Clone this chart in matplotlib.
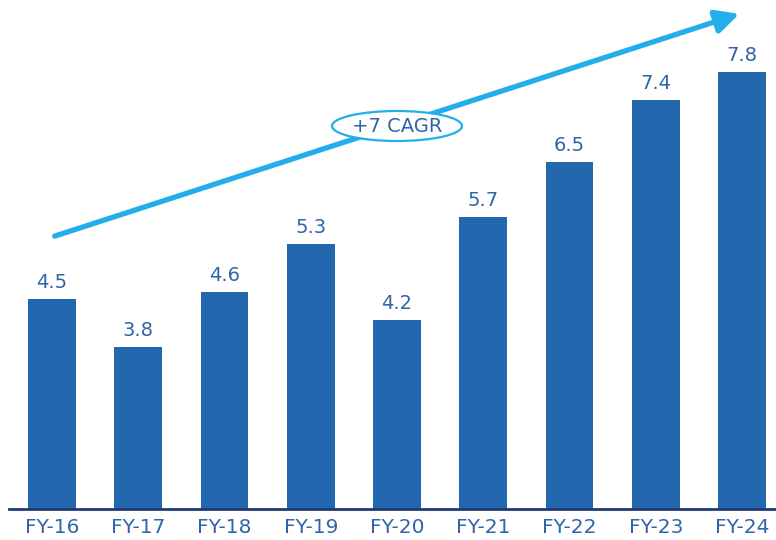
import matplotlib
matplotlib.use("Agg")
import matplotlib.pyplot as plt
from matplotlib.patches import Ellipse, FancyArrowPatch

categories = ["FY-16", "FY-17", "FY-18", "FY-19", "FY-20", "FY-21", "FY-22", "FY-23", "FY-24"]
values = [4.5, 3.8, 4.6, 5.3, 4.2, 5.7, 6.5, 7.4, 7.8]
cagr_label = "+7 CAGR"

bar_color = "#2367AE"
text_color = "#2F64A8"
arrow_color = "#22AEEA"
axis_color = "#1F3A73"

plt.rcParams["font.family"] = ["DejaVu Sans"]

fig = plt.figure(figsize=(7.76, 5.4), dpi=100)
ax = fig.add_axes([9 / 776, 31 / 540, 767 / 776, 509 / 540])

x = list(range(len(categories)))
bars = ax.bar(x, values, width=0.556, color=bar_color, zorder=2)
for xi, v in zip(x, values):
    ax.annotate(f"{v:.1f}", (xi, v), xytext=(0, 5), textcoords="offset points",
                ha="center", va="bottom", fontsize=14, color=text_color)

ax.set_xlim(-0.4986, 8.394)
ax.set_ylim(1.45, 8.85)
ax.set_xticks(x)
ax.set_xticklabels(categories, fontsize=14.5, color=text_color)
ax.tick_params(axis="x", length=0, pad=6.5)
ax.set_yticks([])
for side in ["top", "right", "left"]:
    ax.spines[side].set_visible(False)
ax.spines["bottom"].set_color(axis_color)
ax.spines["bottom"].set_linewidth(2)

# Growth arrow with the CAGR callout
arrow = FancyArrowPatch((43 / 767, 272 / 509), (733 / 767, 496 / 509),
                        transform=ax.transAxes, arrowstyle="-|>,head_length=1.0,head_width=0.5",
                        mutation_scale=14, color=arrow_color, lw=3.8, zorder=3, clip_on=False)
ax.add_patch(arrow)
ell = Ellipse((388 / 767, 383 / 509), 130 / 767, 30 / 509, transform=ax.transAxes,
              facecolor="white", edgecolor=arrow_color, lw=1.6, zorder=4)
ax.add_patch(ell)
ax.text(388 / 767, 383 / 509, cagr_label, transform=ax.transAxes, ha="center", va="center",
        fontsize=14, color=text_color, zorder=5)

fig.savefig("out.png", dpi=100)
